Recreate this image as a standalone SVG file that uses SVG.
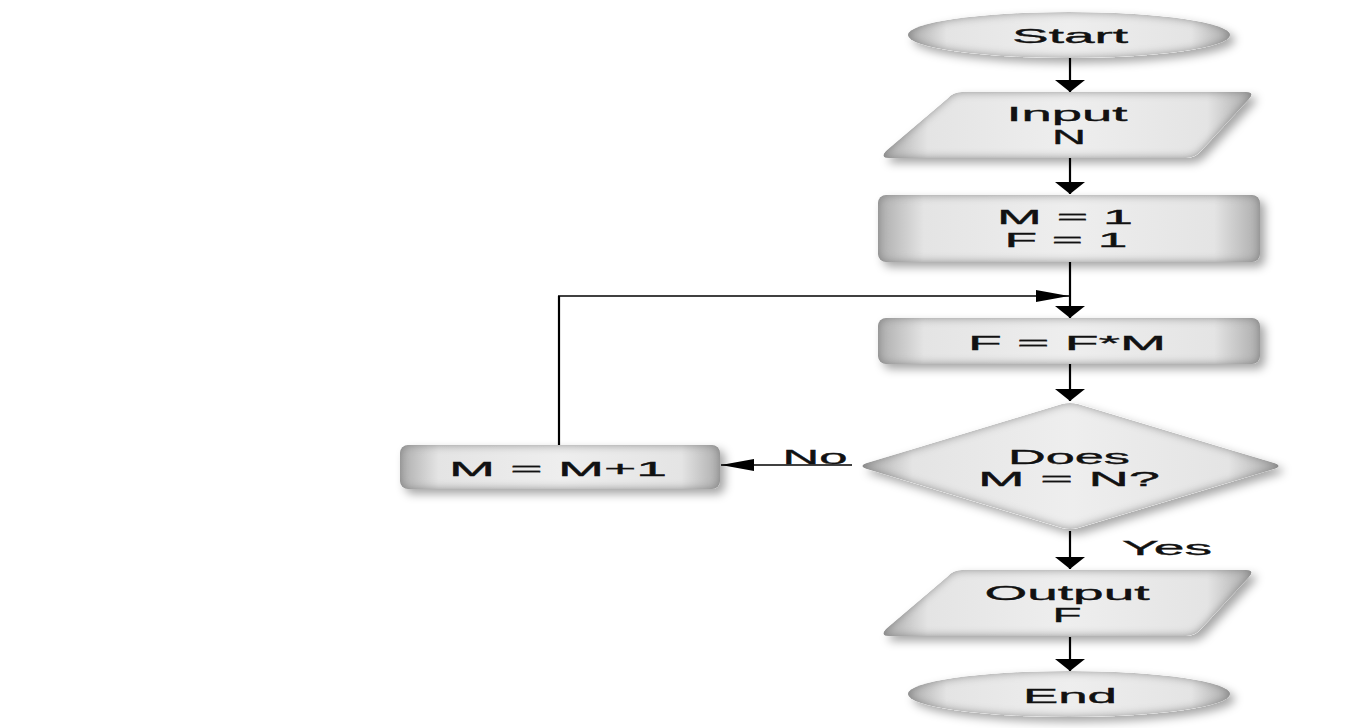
<svg xmlns="http://www.w3.org/2000/svg" width="1350" height="728" viewBox="0 0 1350 728">
<style>
.shape{fill:url(#hg);filter:url(#bevel)}
.lbl{font-family:"Liberation Sans",Arial,sans-serif;font-size:21px;fill:#111;stroke:#111;stroke-width:0.35;text-anchor:middle}
.v{stroke:#000;stroke-width:2.2;fill:none}
.h{stroke:#000;stroke-width:1.3;fill:none}
</style>
<defs>
<linearGradient id="hg" x1="0" y1="0" x2="1" y2="0">
<stop offset="0" stop-color="#acacac"/>
<stop offset="0.12" stop-color="#e4e4e4"/>
<stop offset="0.5" stop-color="#eeeeee"/>
<stop offset="0.88" stop-color="#e4e4e4"/>
<stop offset="1" stop-color="#acacac"/>
</linearGradient>
<filter id="bevel" x="-10%" y="-30%" width="125%" height="170%">
<feGaussianBlur in="SourceAlpha" stdDeviation="5" result="blur"/>
<feComposite in="SourceAlpha" in2="blur" operator="arithmetic" k2="1" k3="-1" result="edge"/>
<feFlood flood-color="#7e7e7e" result="col"/>
<feComposite in="col" in2="edge" operator="in" result="edgeCol"/>
<feOffset in="blur" dx="5" dy="5" result="off"/>
<feFlood flood-color="#000" flood-opacity="0.35" result="sc"/>
<feComposite in="sc" in2="off" operator="in" result="shadow"/>
<feMerge>
<feMergeNode in="shadow"/>
<feMergeNode in="SourceGraphic"/>
<feMergeNode in="edgeCol"/>
</feMerge>
</filter>
<marker id="ad" markerWidth="13" markerHeight="30" refX="12" refY="15" orient="auto" markerUnits="userSpaceOnUse">
<path d="M0,0 L12,15 L0,30 Z" fill="#000"/>
</marker>
<marker id="ah" markerWidth="34" markerHeight="14" refX="33" refY="7" orient="auto" markerUnits="userSpaceOnUse">
<path d="M0,1 L33,7 L0,13 Z" fill="#000"/>
</marker>
</defs>

<g id="connectors">
<line class="v" x1="1070" y1="58" x2="1070" y2="92" marker-end="url(#ad)"/>
<line class="v" x1="1070" y1="158" x2="1070" y2="194" marker-end="url(#ad)"/>
<line class="v" x1="1070" y1="262" x2="1070" y2="318" marker-end="url(#ad)"/>
<line class="v" x1="1070" y1="364" x2="1070" y2="401" marker-end="url(#ad)"/>
<line class="v" x1="1070" y1="531" x2="1070" y2="569" marker-end="url(#ad)"/>
<line class="v" x1="1070" y1="637" x2="1070" y2="671" marker-end="url(#ad)"/>
<line class="h" x1="852" y1="465" x2="721" y2="465" marker-end="url(#ah)"/>
<line class="v" x1="559" y1="445" x2="559" y2="296"/>
<line class="h" x1="558" y1="296" x2="1069" y2="296" marker-end="url(#ah)"/>
<text class="lbl" x="815" y="464" textLength="65" lengthAdjust="spacingAndGlyphs">No</text>
<text class="lbl" x="1167" y="555" textLength="90" lengthAdjust="spacingAndGlyphs">Yes</text>
</g>

<g id="start">
<ellipse class="shape" cx="1069" cy="35" rx="161" ry="23"/>
<text class="lbl" x="1070" y="43" textLength="116" lengthAdjust="spacingAndGlyphs">Start</text>
</g>

<g id="input">
<path class="shape" d="M962,92 L1246,92 Q1255,92 1249,99 L1201,151 Q1195,158 1186,158 L889,158 Q880,158 886,151 L947,99 Q953,92 962,92 Z"/>
<text class="lbl" x="1067" y="121" textLength="121" lengthAdjust="spacingAndGlyphs">Input</text>
<text class="lbl" x="1069" y="144" textLength="34" lengthAdjust="spacingAndGlyphs">N</text>
</g>

<g id="init">
<rect class="shape" x="878" y="195" width="382" height="67" rx="8"/>
<text class="lbl" x="1065" y="224" textLength="136" lengthAdjust="spacingAndGlyphs">M = 1</text>
<text class="lbl" x="1066" y="247" textLength="123" lengthAdjust="spacingAndGlyphs">F = 1</text>
</g>

<g id="multiply">
<rect class="shape" x="878" y="318" width="382" height="46" rx="8"/>
<text class="lbl" x="1067" y="350" textLength="198" lengthAdjust="spacingAndGlyphs">F = F*M</text>
</g>

<g id="decision">
<path class="shape" d="M1062,404 Q1070,402 1078,404 L1274,463 Q1283,466 1274,469 L1078,528 Q1070,530 1062,528 L867,469 Q858,466 867,463 Z"/>
<text class="lbl" x="1069" y="464" textLength="122" lengthAdjust="spacingAndGlyphs">Does</text>
<text class="lbl" x="1069" y="486" textLength="182" lengthAdjust="spacingAndGlyphs">M = N?</text>
</g>

<g id="increment">
<rect class="shape" x="400" y="445" width="320" height="44" rx="8"/>
<text class="lbl" x="558" y="476" textLength="218" lengthAdjust="spacingAndGlyphs">M = M+1</text>
</g>

<g id="output">
<path class="shape" d="M962,570 L1246,570 Q1255,570 1249,577 L1201,629 Q1195,636 1186,636 L889,636 Q880,636 886,629 L947,577 Q953,570 962,570 Z"/>
<text class="lbl" x="1067" y="600" textLength="165" lengthAdjust="spacingAndGlyphs">Output</text>
<text class="lbl" x="1067" y="622" textLength="29" lengthAdjust="spacingAndGlyphs">F</text>
</g>

<g id="end">
<ellipse class="shape" cx="1069" cy="694" rx="161" ry="23"/>
<text class="lbl" x="1070" y="703" textLength="94" lengthAdjust="spacingAndGlyphs">End</text>
</g>
</svg>
